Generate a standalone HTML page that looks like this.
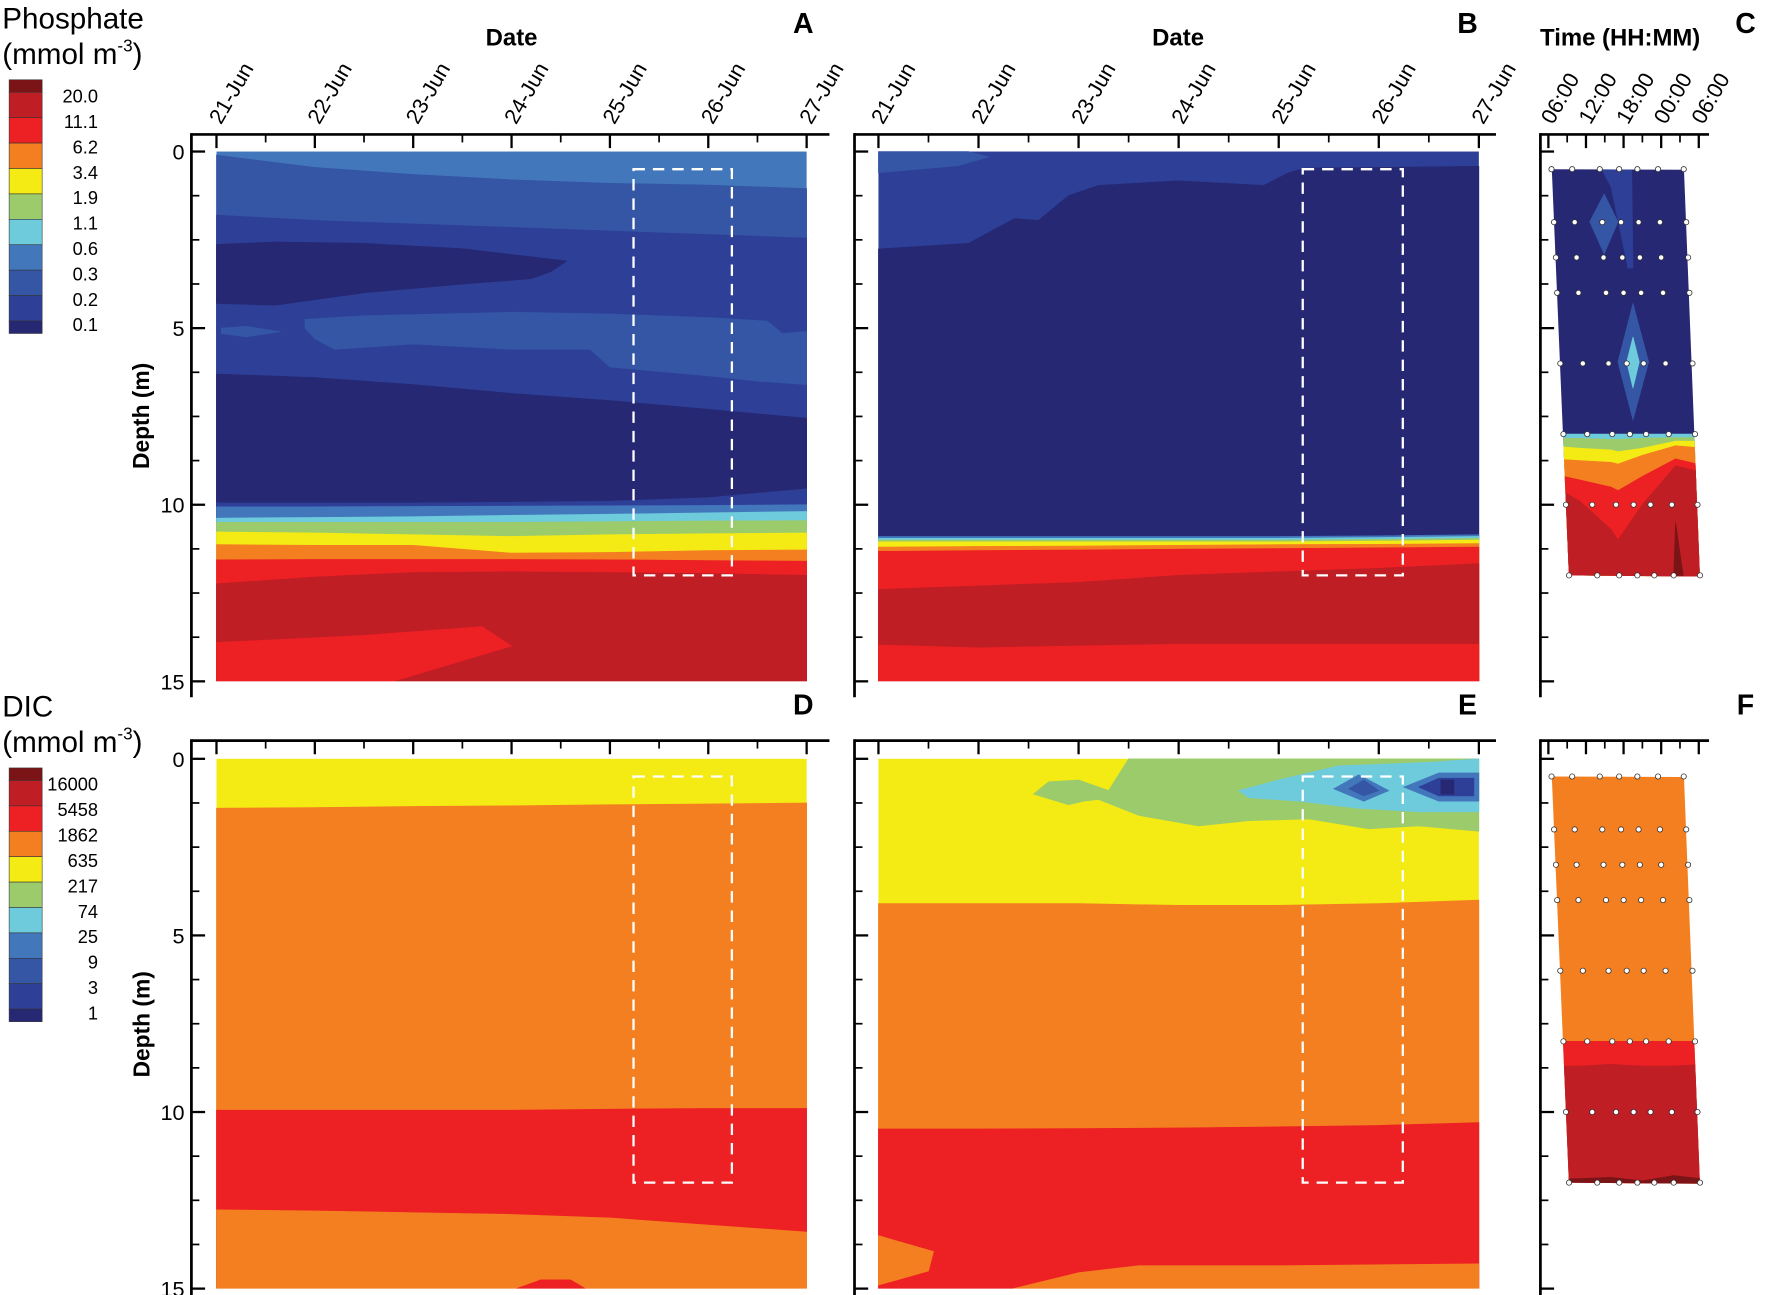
<!DOCTYPE html>
<html><head><meta charset="utf-8"><style>
html,body{margin:0;padding:0;background:#fff}
svg{display:block}
text{font-family:"Liberation Sans",Arial,sans-serif;fill:#000}
</style></head><body>
<svg id="fig" xmlns="http://www.w3.org/2000/svg" width="1766" height="1295" viewBox="0 0 1550 1136.6" preserveAspectRatio="none">
<defs>
<clipPath id="clipC"><polygon points="1362,148.5 1478,149 1492,506 1377,505"/></clipPath>
<clipPath id="clipF"><polygon points="1362,681.5 1478,682 1492,1039 1377,1038"/></clipPath>
</defs>
</svg>
<script>
// ---------- data ----------
const dateLabels=["21-Jun","22-Jun","23-Jun","24-Jun","25-Jun","26-Jun","27-Jun"];
const timeLabels=["06:00","12:00","18:00","00:00","06:00"];
const depthTicks=[0,5,10,15];
const phosLegend=["20.0","11.1","6.2","3.4","1.9","1.1","0.6","0.3","0.2","0.1"];
const dicLegend=["16000","5458","1862","635","217","74","25","9","3","1"];
const palette=["#7a1416","#be1e24","#ed2024","#f47f20","#f4ea14","#9ccb6c","#6dcbdc","#4377bc","#3556a5","#2e3f97","#262873"];
const dayGrid=[0,1,2,3,4,5,6];
// Panel A layer tops (depth m at each day)
const aL1=[0.1,0.45,0.65,0.8,0.9,0.95,1.05];
const aL2=[1.8,1.95,2.05,2.15,2.25,2.35,2.45];
const aL3=[6.3,6.4,6.6,6.85,7.05,7.3,7.55];
const aL4=[9.95,9.95,9.95,9.93,9.9,9.8,9.55];
const aL5=[10.06,10.06,10.05,10.04,10.03,10.02,10.0];
const aL6=[10.38,10.36,10.34,10.3,10.27,10.23,10.19];
const aL7=[10.5,10.5,10.5,10.5,10.48,10.46,10.45];
const aL8=[10.77,10.8,10.85,10.9,10.85,10.82,10.8];
const aL9=[11.13,11.15,11.15,11.37,11.35,11.3,11.28];
const aL10=[11.56,11.55,11.55,11.55,11.56,11.58,11.6];
const aL11=[12.24,12.05,11.92,11.9,11.92,11.95,12.0];
const aLensDays=[0,0.6,1.5,2.5,3.56,3.4,3.2,2.5,1.5,0.6,0];
const aLensDepth=[2.63,2.56,2.6,2.75,3.1,3.4,3.6,3.75,4.0,4.35,4.3];
const aBandDays=[0.9,1.5,3,4,5,5.6,5.75,6,6,5.5,5,4,3.8,3,2,1.2,1,0.9];
const aBandDepth=[4.75,4.65,4.55,4.6,4.7,4.8,5.15,5.1,6.6,6.5,6.35,6.1,5.6,5.6,5.45,5.6,5.3,5.0];
const aWedgeDays=[0.05,0.3,0.65,0.3,0.05];
const aWedgeDepth=[5.0,4.95,5.1,5.25,5.15];
const aRedDays=[0,1.5,2.7,3.0,2.4,1.8,0];
const aRedDepth=[13.9,13.7,13.45,14.0,14.5,15,15];
// Panel B
const bTopDays=[0,0.9,1.1,0.8,0];
const bTopDepth=[0,0,0.15,0.4,0.6];
const bNavyDays=[0,0.9,1.36,1.6,1.9,2.2,3,3.85,4.1,4.26,5,6];
const bNavyDepth=[2.76,2.6,1.9,1.95,1.25,0.96,0.83,0.96,0.6,0.47,0.45,0.42];
const bL1=[10.9,10.9,10.9,10.9,10.9,10.88,10.85];
const bL2=[10.95,10.95,10.95,10.95,10.95,10.93,10.9];
const bL3=[11.0,11.0,11.0,11.0,11.0,10.98,10.95];
const bL4=[11.05,11.05,11.05,11.05,11.05,11.03,11.0];
const bL5=[11.2,11.18,11.17,11.15,11.13,11.12,11.1];
const bL6=[11.32,11.3,11.28,11.26,11.24,11.22,11.2];
const bL7=[12.4,12.3,12.2,12.0,11.9,11.8,11.67];
const bL8=[13.97,14.05,14.0,13.95,13.95,13.95,13.95];
// Panel C (hours since 06:00)
const cTimes=[0,5,10,11.1,15,20.3,25];
const cYellow=[8.33,8.4,8.45,8.5,8.4,8.2,8.2];
const cOrange=[8.7,8.75,8.8,8.85,8.6,8.33,8.4];
const cRed=[9.1,9.3,9.5,9.6,9.2,8.7,8.9];
const cDark=[9.4,9.9,10.7,11.0,10.0,8.9,9.1];
const cSpikeT=[20.3,20.0,21.5];
const cSpikeD=[10.5,12,12];
const cDiamT=[13.5,16,13.5,11.1];
const cDiamD=[4.3,5.96,7.6,5.96];
const cDiam2T=[13.5,14.5,13.5,12.5];
const cDiam2D=[5.25,5.96,6.7,5.96];
const cDiam3T=[8.9,11.1,8.9,6.6];
const cDiam3D=[1.2,1.99,2.9,1.99];
const cBlueT=[8.5,13.3,13.5,12.7,10.0];
const cBlueD=[0.5,0.5,3.3,3.3,1.0];
const sampleDepths=[0.5,2,3,4,6,8,10,12];
const sampleTimes=[
 [0.5,3.8,8.2,11.3,14.2,17.5,21.6],
 [0.9,4.2,8.6,11.6,14.4,17.8,22.0],
 [1.2,4.5,8.8,11.8,14.6,18.0,22.3],
 [1.4,4.8,9.2,12.0,14.8,18.3,22.5],
 [1.9,5.5,9.6,12.5,15.2,18.7,23.0],
 [2.4,6.2,10.2,13.0,15.6,19.2,23.4],
 [2.8,7.0,10.8,13.6,16.3,19.7,23.8],
 [3.3,7.8,11.3,14.2,16.9,20.0,24.2]];
// Panel D
const dL1=[1.4,1.38,1.35,1.33,1.3,1.28,1.25];
const dL2=[9.95,9.95,9.95,9.95,9.92,9.9,9.9];
const dL3=[12.77,12.8,12.85,12.9,13.0,13.2,13.4];
const dRedDays=[3.05,3.3,3.6,3.75];
const dRedDepth=[15,14.75,14.75,15];
// Panel E
const eGreenDays=[2.5,6,6,5.4,4.9,4.3,3.7,3.2,2.6,2.2,2.05,1.9,1.55,1.7,2.0,2.3];
const eGreenDepth=[0,0,2.05,1.9,1.98,1.7,1.75,1.9,1.6,1.15,1.2,1.3,1.0,0.65,0.6,0.9];
const eCyanDays=[3.6,4.0,4.6,5.5,6,6,5.4,4.8,4.2,3.7];
const eCyanDepth=[0.9,0.6,0.2,0.1,0,1.5,1.5,1.4,1.2,1.1];
const eB1Days=[4.55,4.8,5.1,4.85];const eB1Depth=[0.85,0.45,0.9,1.2];
const eB2Days=[4.7,4.85,5.0,4.85];const eB2Depth=[0.85,0.6,0.9,1.05];
const eB3Days=[5.25,5.6,6,6,5.6];const eB3Depth=[0.8,0.4,0.4,1.2,1.2];
const eB4Days=[5.4,5.6,5.95,5.95,5.6];const eB4Depth=[0.8,0.55,0.55,1.05,1.05];
const eB5Days=[5.62,5.75,5.75,5.62];const eB5Depth=[0.6,0.6,1.0,1.0];
const eL1=[4.1,4.1,4.1,4.15,4.15,4.1,4.0];
const eL2=[10.48,10.48,10.47,10.45,10.42,10.38,10.3];
const eOrDays=[1.35,2.0,2.6,4,6,6];
const eOrDepth=[15,14.55,14.35,14.35,14.3,15];
const eLensDays=[0,0.55,0.5,0];
const eLensDepth=[13.5,13.95,14.5,14.9];
// Panel F
const fTimes=[0,5,10,15,20,25,30];
const fL1=[8.0,8.0,8.0,8.0,8.0,8.0,8.0];
const fL2=[8.7,8.7,8.65,8.7,8.7,8.65,8.7];
const fDarkT=[3.0,10,15,20,25,25];
const fDarkD=[11.9,11.85,11.95,11.8,11.9,12.1];

// ---------- helpers ----------
const NS="http://www.w3.org/2000/svg";
const svg=document.getElementById('fig');
function el(tag,attrs,parent){const e=document.createElementNS(NS,tag);for(const k in attrs)e.setAttribute(k,attrs[k]);(parent||svg).appendChild(e);return e;}
const xA=d=>190+d*86.33, xB=d=>771+d*87.83;
const yT=z=>133+z*31, yB=z=>666+z*31;
const xT=t=>1359+t*5.5;
function layer(g,xf,yf,xs,tops,color,name){
  let p=xs.map((d,i)=>xf(d)+","+yf(tops[i]));
  p.push(xf(xs[xs.length-1])+","+yf(15.2));p.push(xf(xs[0])+","+yf(15.2));
  const e=el('polygon',{points:p.join(" "),fill:color,stroke:color,'stroke-width':0.6},g);
  
  
}
function poly(g,xf,yf,xs,ys,color,name){
  const e=el('polygon',{points:xs.map((d,i)=>xf(d)+","+yf(ys[i])).join(" "),fill:color,stroke:color,'stroke-width':0.6},g);
  
  
}
function rectFill(g,x0,x1,y0,y1,color,name){
  const e=el('rect',{x:x0,y:y0,width:x1-x0,height:y1-y0,fill:color},g);
  
  
}
function txt(x,y,s,attrs,name){const e=el('text',Object.assign({x:x,y:y},attrs||{}));e.textContent=s;
  
  return e;}
const P=palette;

// ---------- Panel A ----------
let g=el('g',{});
rectFill(g,xA(0),xA(6),yT(0),yT(15),P[7],'a-surface');
layer(g,xA,yT,dayGrid,aL1,P[8],'a-layer');
layer(g,xA,yT,dayGrid,aL2,P[9],'a-layer');
poly(g,xA,yT,aLensDays,aLensDepth,P[10],'a-lens');
poly(g,xA,yT,aBandDays,aBandDepth,P[8],'a-band');
poly(g,xA,yT,aWedgeDays,aWedgeDepth,P[8],'a-wedge');
layer(g,xA,yT,dayGrid,aL3,P[10],'a-layer');
layer(g,xA,yT,dayGrid,aL4,P[9],'a-layer');
layer(g,xA,yT,dayGrid,aL5,P[7],'a-layer');
layer(g,xA,yT,dayGrid,aL6,P[6],'a-layer');
layer(g,xA,yT,dayGrid,aL7,P[5],'a-layer');
layer(g,xA,yT,dayGrid,aL8,P[4],'a-layer');
layer(g,xA,yT,dayGrid,aL9,P[3],'a-layer');
layer(g,xA,yT,dayGrid,aL10,P[2],'a-layer');
layer(g,xA,yT,dayGrid,aL11,P[1],'a-layer');
poly(g,xA,yT,aRedDays,aRedDepth,P[2],'a-red-lens');
rectFill(g,xA(0)-2,xA(6)+2,yT(15),yT(15.3),'#fff','a-trim');

// ---------- Panel B ----------
g=el('g',{});
rectFill(g,xB(0),xB(6),yT(0),yT(15),P[9],'b-surface');
poly(g,xB,yT,bTopDays,bTopDepth,P[8],'b-corner');
layer(g,xB,yT,bNavyDays,bNavyDepth,P[10],'b-layer');
layer(g,xB,yT,dayGrid,bL1,P[7],'b-layer');
layer(g,xB,yT,dayGrid,bL2,P[6],'b-layer');
layer(g,xB,yT,dayGrid,bL3,P[5],'b-layer');
layer(g,xB,yT,dayGrid,bL4,P[4],'b-layer');
layer(g,xB,yT,dayGrid,bL5,P[3],'b-layer');
layer(g,xB,yT,dayGrid,bL6,P[2],'b-layer');
layer(g,xB,yT,dayGrid,bL7,P[1],'b-layer');
layer(g,xB,yT,dayGrid,bL8,P[2],'b-layer');
rectFill(g,xB(0)-2,xB(6)+2,yT(15),yT(15.3),'#fff','b-trim');

// ---------- Panel C ----------
g=el('g',{'clip-path':'url(#clipC)'});
rectFill(g,1350,1500,140,510,P[10],'c-surface');
poly(g,xT,yT,cBlueT,cBlueD,P[9],'c-blue-region');
poly(g,xT,yT,cDiam3T,cDiam3D,P[8],'c-diamond-upper');
poly(g,xT,yT,cDiamT,cDiamD,P[8],'c-diamond');
poly(g,xT,yT,cDiam2T,cDiam2D,P[6],'c-diamond-core');
layer(g,xT,yT,cTimes,[8.0,8.0,8.0,8.0,8.0,8.0,8.0],P[6],'c-layer');
layer(g,xT,yT,cTimes,[8.12,8.12,8.15,8.15,8.12,8.1,8.1],P[5],'c-layer');
layer(g,xT,yT,cTimes,cYellow,P[4],'c-layer');
layer(g,xT,yT,cTimes,cOrange,P[3],'c-layer');
layer(g,xT,yT,cTimes,cRed,P[2],'c-layer');
layer(g,xT,yT,cTimes,cDark,P[1],'c-layer');
poly(g,xT,yT,cSpikeT,cSpikeD,P[0],'c-spike');

// ---------- Panel D ----------
g=el('g',{});
rectFill(g,xA(0),xA(6),yB(0),yB(15),P[4],'d-surface');
layer(g,xA,yB,dayGrid,dL1,P[3],'d-layer');
layer(g,xA,yB,dayGrid,dL2,P[2],'d-layer');
layer(g,xA,yB,dayGrid,dL3,P[3],'d-layer');
poly(g,xA,yB,dRedDays,dRedDepth,P[2],'d-red-patch');
rectFill(g,xA(0)-2,xA(6)+2,yB(15),yB(15.3),'#fff','d-trim');

// ---------- Panel E ----------
g=el('g',{});
rectFill(g,xB(0),xB(6),yB(0),yB(15),P[4],'e-surface');
poly(g,xB,yB,eGreenDays,eGreenDepth,P[5],'e-green');
poly(g,xB,yB,eCyanDays,eCyanDepth,P[6],'e-cyan');
poly(g,xB,yB,eB1Days,eB1Depth,P[7],'e-blue');
poly(g,xB,yB,eB2Days,eB2Depth,P[8],'e-blue');
poly(g,xB,yB,eB3Days,eB3Depth,P[7],'e-blue');
poly(g,xB,yB,eB4Days,eB4Depth,P[9],'e-blue');
poly(g,xB,yB,eB5Days,eB5Depth,P[10],'e-navy');
layer(g,xB,yB,dayGrid,eL1,P[3],'e-layer');
layer(g,xB,yB,dayGrid,eL2,P[2],'e-layer');
poly(g,xB,yB,eOrDays,eOrDepth,P[3],'e-orange-bottom');
poly(g,xB,yB,eLensDays,eLensDepth,P[3],'e-orange-lens');
rectFill(g,xB(0)-2,xB(6)+2,yB(15),yB(15.3),'#fff','e-trim');

// ---------- Panel F ----------
g=el('g',{'clip-path':'url(#clipF)'});
rectFill(g,1350,1500,670,1045,P[3],'f-surface');
layer(g,xT,yB,fTimes,fL1,P[2],'f-layer');
layer(g,xT,yB,fTimes,fL2,P[1],'f-layer');
layer(g,xT,yB,fDarkT,fDarkD,P[0],'f-layer');

// ---------- sample points ----------
[[yT,'c'],[yB,'f']].forEach(([yf,k])=>{
  sampleDepths.forEach((dp,r)=>{
    sampleTimes[r].forEach(t=>{
      const c=el('circle',{cx:xT(t),cy:yf(dp),r:2.3,fill:'#fff',stroke:'#333','stroke-width':0.7});
      
      
    });
  });
});

// ---------- dashed boxes ----------
[[xA,yT],[xB,yT],[xA,yB],[xB,yB]].forEach(([xf,yf])=>{
  const r=el('rect',{x:xf(4.24),y:yf(0.5),width:xf(5.24)-xf(4.24),height:yf(12)-yf(0.5),fill:'none',stroke:'#fff','stroke-width':2,'stroke-dasharray':'10,7'});
  
  
});

// ---------- axes ----------
function axes(x0,x1,yTop,ticksX,labels,yf,minorX,title,titleX,letter,letterX,letterY,showLabels){
  const ax=el('g',{});
  el('line',{x1:x0,y1:yTop,x2:x1,y2:yTop,stroke:'#000','stroke-width':2.4},ax);
  el('line',{x1:x0,y1:yTop-1.2,x2:x0,y2:yTop+494,stroke:'#000','stroke-width':2.4},ax);
  ticksX.forEach((x,i)=>{
    el('line',{x1:x,y1:yTop,x2:x,y2:yTop+12,stroke:'#000','stroke-width':2},ax);
    if(showLabels){txt(x+4,yTop-8,labels[i],{'font-size':19,transform:`rotate(-60 ${x+4} ${yTop-8})`},'x-tick-label');}
  });
  minorX.forEach(x=>el('line',{x1:x,y1:yTop,x2:x,y2:yTop+7,stroke:'#000','stroke-width':1.5},ax));
  for(let z=0;z<=15.01;z+=1.25){
    const major=Math.abs(z/5-Math.round(z/5))<0.01;
    el('line',{x1:x0,y1:yf(z),x2:x0+(major?12:7),y2:yf(z),stroke:'#000','stroke-width':major?2:1.5},ax);
  }
  if(title) txt(titleX,40,title,{'font-size':21,'font-weight':'bold','text-anchor':'middle'},'x-axis-title');
  txt(letterX,letterY,letter,{'font-size':25,'font-weight':'bold','text-anchor':'middle'},'panel-label');
}
const dayTicksA=dayGrid.map(xA), dayTicksB=dayGrid.map(xB);
const minA=dayGrid.slice(0,6).map(d=>xA(d+0.5)), minB=dayGrid.slice(0,6).map(d=>xB(d+0.5));
const tT=[0,6,12,18,24].map(xT);
const minT=[3,9,15,21].map(xT);
axes(168,728,118,dayTicksA,dateLabels,yT,minA,'Date',449,'A',705,29,true);
axes(750,1313,118,dayTicksB,dateLabels,yT,minB,'Date',1034,'B',1288,29,true);
axes(1352,1500,118,tT,timeLabels,yT,minT,'Time (HH:MM)',1422,'C',1532,29,true);
axes(168,728,650,dayTicksA,dateLabels,yB,minA,null,0,'D',705,627,false);
axes(750,1313,650,dayTicksB,dateLabels,yB,minB,null,0,'E',1288,627,false);
axes(1352,1500,650,tT,timeLabels,yB,minT,null,0,'F',1532,627,false);
// y tick labels (left panels)
[yT,yB].forEach(yf=>depthTicks.forEach(z=>txt(162,yf(z)+7,String(z),{'font-size':19,'text-anchor':'end'},'y-tick-label')));
[[365],[899]].forEach(([cy])=>txt(131,cy,'Depth (m)',{'font-size':20,'font-weight':'bold','text-anchor':'middle',transform:`rotate(-90 131 ${cy})`},'y-axis-title'));

// ---------- legends ----------
function legend(y0,title,labels){
  txt(2,y0+25,title,{'font-size':26},'legend-title');
  const u=txt(2,y0+56,'(mmol m',{'font-size':26},'legend-units');
  const s=el('tspan',{'font-size':15,dy:-11},u);s.textContent='-3';
  const s2=el('tspan',{'font-size':26,dy:11},u);s2.textContent=')';
  let y=y0+70;
  palette.forEach((c,i)=>{
    const h=(i===0||i===10)?11:22.3;
    const r=el('rect',{x:8,y:y,width:29,height:h,fill:c,stroke:'#333','stroke-width':0.5});
    
    
    y+=h;
    if(i<10) txt(86,y+9,labels[i],{'font-size':16,'text-anchor':'end'},'legend-label');
  });
}
legend(0,'Phosphate',phosLegend);
legend(604,'DIC',dicLegend);
</script>
</body></html>
